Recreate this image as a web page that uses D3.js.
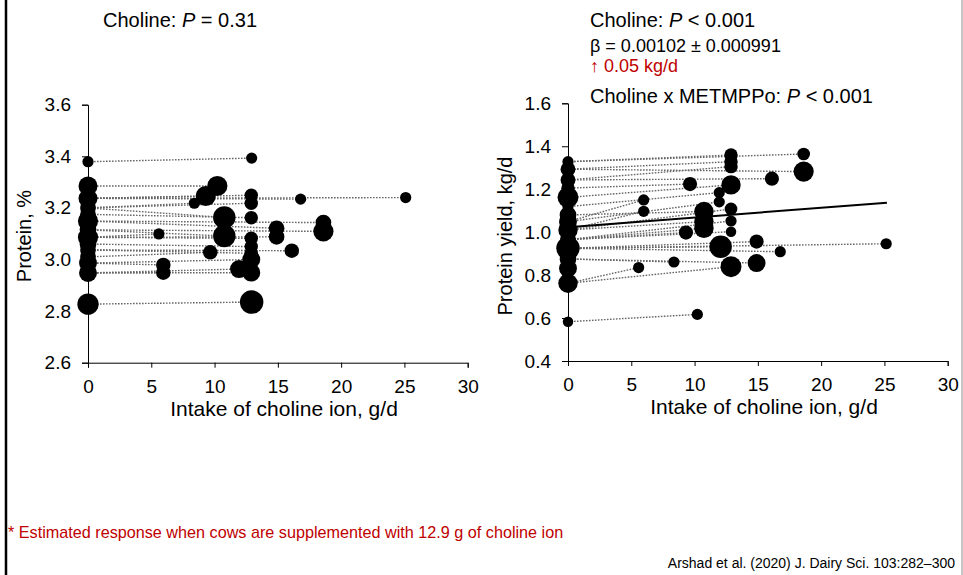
<!DOCTYPE html>
<html>
<head>
<meta charset="utf-8">
<script src="https://cdn.jsdelivr.net/npm/d3@7"></script>
<style>
  body { margin: 0; background: #fff; }
  svg text { font-family: Arial, "Liberation Sans", sans-serif; }
</style>
</head>
<body>
<div id="chart"></div>
<script>
// x ticks shared by both panels
var xTicks = [0, 5, 10, 15, 20, 25, 30];
var protTicks = [2.6, 2.8, 3.0, 3.2, 3.4, 3.6];
var yieldTicks = [0.4, 0.6, 0.8, 1.0, 1.2, 1.4, 1.6];

// protein %, control groups (choline = 0)
var protCtrlY = [3.379, 3.285, 3.237, 3.200, 3.149, 3.086, 3.037, 2.986, 2.948, 2.827, 3.175, 3.115, 3.060, 3.010];
var protCtrlW = [25, 72, 72, 49, 81, 81, 49, 64, 64, 90, 49, 56, 56, 49];
// protein %, treatment groups; protTrtC = index of the control they belong to
var protTrtX = [12.93, 10.22, 9.30, 8.40, 12.9, 12.9, 16.8, 25.1, 10.77, 12.9, 18.6, 14.9, 5.6, 10.77, 14.9, 18.6, 12.9, 12.9, 12.9, 16.1, 9.66, 12.9, 5.95, 5.95, 11.93, 12.9, 12.93];
var protTrtY = [3.393, 3.285, 3.246, 3.218, 3.249, 3.218, 3.234, 3.240, 3.163, 3.162, 3.143, 3.121, 3.099, 3.091, 3.088, 3.109, 3.082, 3.050, 3.024, 3.034, 3.028, 3.000, 2.979, 2.949, 2.963, 2.949, 2.835];
var protTrtW = [25, 81, 81, 25, 36, 36, 25, 25, 100, 36, 49, 49, 25, 100, 49, 81, 36, 36, 36, 42, 42, 64, 42, 42, 64, 64, 110];
var protTrtC = [0, 1, 2, 3, 2, 3, 2, 2, 3, 10, 4, 4, 5, 11, 5, 11, 5, 12, 6, 6, 13, 7, 7, 8, 8, 8, 9];

// protein yield kg/d, control groups
var yieldCtrlY = [1.328, 1.293, 1.243, 1.162, 1.119, 1.049, 1.010, 0.965, 0.925, 0.832, 0.762, 0.583, 1.205, 1.080, 0.875];
var yieldCtrlW = [25, 44, 44, 87, 25, 64, 75, 49, 110, 64, 75, 22, 36, 56, 56];
var yieldTrtX = [12.88, 18.62, 12.88, 18.62, 12.88, 16.11, 9.64, 12.88, 11.95, 5.98, 11.95, 10.74, 5.98, 12.88, 10.74, 10.74, 9.32, 12.88, 12.88, 12.06, 14.9, 16.77, 25.14, 8.37, 14.9, 12.88, 5.58, 10.22];
var yieldTrtY = [1.359, 1.364, 1.328, 1.282, 1.305, 1.249, 1.224, 1.220, 1.184, 1.150, 1.141, 1.096, 1.097, 1.108, 1.049, 1.018, 0.998, 1.052, 1.002, 0.932, 0.956, 0.909, 0.946, 0.861, 0.856, 0.839, 0.835, 0.617];
var yieldTrtW = [36, 32, 36, 81, 36, 40, 40, 75, 25, 25, 25, 75, 25, 32, 75, 75, 40, 25, 22, 100, 40, 25, 25, 25, 64, 87, 25, 25];
var yieldTrtC = [0, 0, 1, 1, 2, 2, 12, 3, 4, 5, 5, 13, 6, 6, 6, 7, 7, 7, 7, 8, 8, 8, 8, 14, 14, 10, 10, 11];
// fitted response line
var yieldFitX = [0, 25.2];
var yieldFitY = [1.023, 1.137];

var W = 963, H = 575;
var svg = d3.select('#chart').append('svg')
    .attr('width', W)
    .attr('height', H);

// frame lines
svg.append('line').attr('x1', 6).attr('x2', 6).attr('y1', 0).attr('y2', H)
    .attr('stroke', '#000').attr('stroke-width', 2.5);
svg.append('line').attr('x1', 962).attr('x2', 962).attr('y1', 0).attr('y2', H)
    .attr('stroke', '#8a8a8a').attr('stroke-width', 1);

var rScale = d3.scaleSqrt().domain([0, 100]).range([0, 11.2]);

function panel(opt) {
    var x = d3.scaleLinear().domain([0, 30]).range([opt.left, opt.left + 379.7]);
    var y = d3.scaleLinear().domain(opt.yDomain).range([opt.bottom, opt.top]);

    var g = svg.append('g');

    // dotted links from control to each treatment
    g.selectAll('line.link')
        .data(opt.trtX)
        .enter()
      .append('line')
        .attr('class', 'link')
        .attr('x1', x(0))
        .attr('y1', function(d, i) { return y(opt.ctrlY[opt.trtC[i]]); })
        .attr('x2', function(d) { return x(d); })
        .attr('y2', function(d, i) { return y(opt.trtY[i]); })
        .attr('stroke', '#666')
        .attr('stroke-width', 1.4)
        .attr('stroke-dasharray', '1.6,1.4');

    // axes
    var yAxis = d3.axisLeft(y).tickValues(opt.yTicks).tickFormat(d3.format('.1f'))
        .tickSize(6).tickPadding(11);
    var xAxis = d3.axisBottom(x).tickValues(xTicks).tickFormat(d3.format('d'))
        .tickSize(5).tickPadding(12);

    var ya = g.append('g').attr('transform', 'translate(' + opt.left + ',0)').call(yAxis);
    var xa = g.append('g').attr('transform', 'translate(0,' + opt.bottom + ')').call(xAxis);
    [ya, xa].forEach(function(a) {
        a.selectAll('text').attr('font-size', 19).attr('fill', '#000')
            .attr('font-family', 'Arial, "Liberation Sans", sans-serif');
        a.selectAll('path, line').attr('stroke', '#000');
    });

    // bubbles
    g.selectAll('circle.ctrl')
        .data(opt.ctrlY)
        .enter()
      .append('circle')
        .attr('cx', x(0))
        .attr('cy', function(d) { return y(d); })
        .attr('r', function(d, i) { return rScale(opt.ctrlW[i]); })
        .attr('fill', '#000');
    g.selectAll('circle.trt')
        .data(opt.trtX)
        .enter()
      .append('circle')
        .attr('cx', function(d) { return x(d); })
        .attr('cy', function(d, i) { return y(opt.trtY[i]); })
        .attr('r', function(d, i) { return rScale(opt.trtW[i]); })
        .attr('fill', '#000');

    if (opt.fitX) {
        g.append('path')
            .datum(opt.fitX)
            .attr('d', d3.line()
                .x(function(d) { return x(d); })
                .y(function(d, i) { return y(opt.fitY[i]); }))
            .attr('stroke', '#000')
            .attr('stroke-width', 2)
            .attr('fill', 'none');
    }

    // axis titles
    g.append('text')
        .attr('x', opt.left + 196)
        .attr('y', opt.bottom + 53)
        .attr('text-anchor', 'middle')
        .attr('font-size', 21)
        .text('Intake of choline ion, g/d');
    g.append('text')
        .attr('transform', 'translate(' + opt.yTitleX + ',236) rotate(-90)')
        .attr('text-anchor', 'middle')
        .attr('font-size', 20)
        .text(opt.yTitle);
}

panel({
    left: 88, top: 104.7, bottom: 362.7, yDomain: [2.6, 3.6], yTicks: protTicks,
    ctrlY: protCtrlY, ctrlW: protCtrlW,
    trtX: protTrtX, trtY: protTrtY, trtW: protTrtW, trtC: protTrtC,
    yTitle: 'Protein, %', yTitleX: 31
});
panel({
    left: 568, top: 103.3, bottom: 361, yDomain: [0.4, 1.6], yTicks: yieldTicks,
    ctrlY: yieldCtrlY, ctrlW: yieldCtrlW,
    trtX: yieldTrtX, trtY: yieldTrtY, trtW: yieldTrtW, trtC: yieldTrtC,
    fitX: yieldFitX, fitY: yieldFitY,
    yTitle: 'Protein yield, kg/d', yTitleX: 512
});

// statistics text
function stat(xp, yp, size, color, parts) {
    var t = svg.append('text').attr('x', xp).attr('y', yp)
        .attr('font-size', size).attr('fill', color);
    parts.forEach(function(p) {
        t.append('tspan').attr('font-style', p[1] ? 'italic' : 'normal').text(p[0]);
    });
}
stat(103, 27, 20, '#000', [['Choline: ', 0], ['P', 1], [' = 0.31', 0]]);
stat(590, 27, 20, '#000', [['Choline: ', 0], ['P', 1], [' < 0.001', 0]]);
stat(590, 52, 18, '#000', [['\u03b2 = 0.00102 \u00b1 0.000991', 0]]);
stat(590, 72, 18, '#c00000', [['\u2191 0.05 kg/d', 0]]);
stat(590, 103, 20, '#000', [['Choline x METMPPo: ', 0], ['P', 1], [' < 0.001', 0]]);

svg.append('text').attr('x', 8).attr('y', 538)
    .attr('font-size', 16.2).attr('fill', '#c00000')
    .text('* Estimated response when cows are supplemented with 12.9 g of choline ion');
svg.append('text').attr('x', 955).attr('y', 568)
    .attr('text-anchor', 'end')
    .attr('font-size', 14).attr('fill', '#000')
    .text('Arshad et al. (2020) J. Dairy Sci. 103:282\u2013300');
</script>
</body>
</html>
